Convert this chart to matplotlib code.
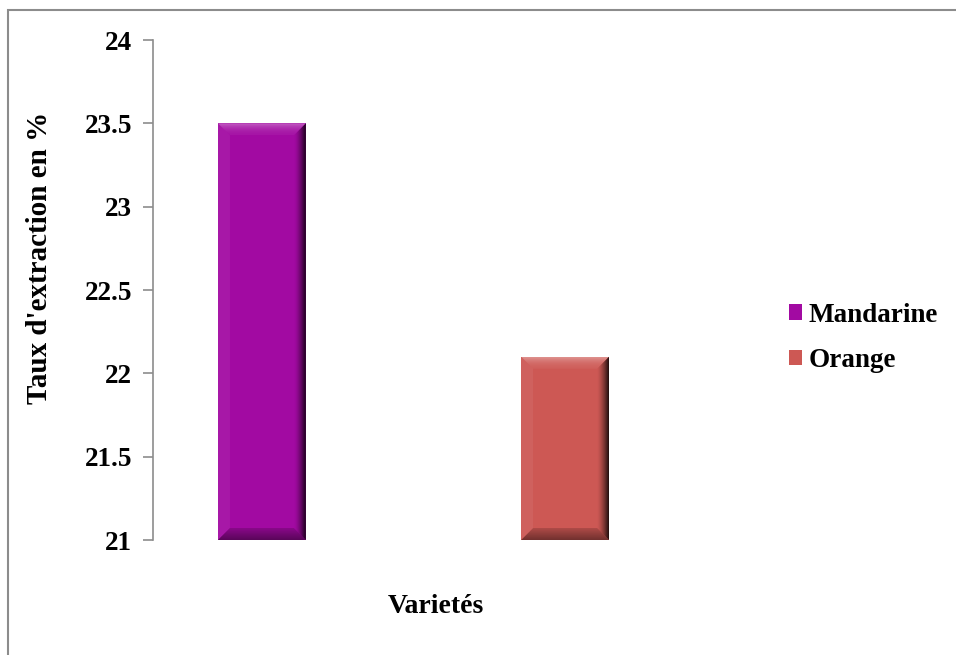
import numpy as np
import matplotlib
matplotlib.use('Agg')
from matplotlib import pyplot as plt
from matplotlib.patches import Polygon, Rectangle

varietes = ['Mandarine', 'Orange']
taux = [23.5, 22.1]
couleurs = ['#a20aa2', '#cd5854']
yticks = [21, 21.5, 22, 22.5, 23, 23.5, 24]
ytick_labels = ['21', '21.5', '22', '22.5', '23', '23.5', '24']

plt.rcParams['font.family'] = 'Liberation Serif'
plt.rcParams['font.weight'] = 'bold'

fig = plt.figure(figsize=(9.56, 6.55), dpi=100)
ax = fig.add_axes([153/956, 1-540/655, 521/956, 500/655])

pos = np.arange(len(varietes))
bars = ax.bar(pos, np.array(taux) - 21, bottom=21, width=0.29, color=couleurs,
              label=varietes, zorder=2)

ax.set_ylim(21, 24)
ax.set_xlim(-0.359, 1.359)
ax.set_yticks(yticks)
ax.set_yticklabels(ytick_labels)
ax.set_xticks([])

for s in ['top', 'right', 'bottom']:
    ax.spines[s].set_visible(False)
ax.spines['left'].set_color('#8c8c8c')
ax.spines['left'].set_linewidth(1.2)
ax.tick_params(axis='y', direction='out', length=7, width=1.2, color='#8c8c8c',
               labelsize=19.5, pad=8)

ax.set_ylabel("Taux d'extraction en %", fontsize=21, fontweight='bold')
ax.yaxis.set_label_coords(-0.192, 0.565)
ax.set_xlabel('Varietés', fontsize=20, fontweight='bold')
ax.xaxis.set_label_coords(0.543, -0.108)

# bevel effect on the bars
def bevel(bar, px=12):
    fig.canvas.draw()
    x0, y0 = bar.get_x(), bar.get_y()
    w, h = bar.get_width(), bar.get_height()
    inv = ax.transData.inverted()
    p0 = inv.transform((0, 0))
    p1 = inv.transform((px, px))
    dx, dy = p1[0] - p0[0], p1[1] - p0[1]
    x1, y1 = x0 + w, y0 + h
    sides = [
        ([(x0, y1), (x1, y1), (x1 - dx, y1 - dy), (x0 + dx, y1 - dy)], 'top'),
        ([(x0, y0), (x0, y1), (x0 + dx, y1 - dy), (x0 + dx, y0 + dy)], 'left'),
        ([(x1, y0), (x1, y1), (x1 - dx, y1 - dy), (x1 - dx, y0 + dy)], 'right'),
        ([(x0, y0), (x1, y0), (x1 - dx, y0 + dy), (x0 + dx, y0 + dy)], 'bottom'),
    ]
    for pts, side in sides:
        poly = Polygon(pts, closed=True, fc='none', ec='none')
        ax.add_patch(poly)
        g = np.linspace(0, 1, 64)
        img = np.zeros((64, 64, 4))
        if side == 'top':
            img[..., :3] = 1
            img[..., 3] = (0.05 + 0.3 * g ** 2)[:, None]
            ext = (x0, x1, y1 - dy, y1)
        elif side == 'left':
            img[..., :3] = 1
            img[..., 3] = 0.06
            ext = (x0, x0 + dx, y0, y1)
        elif side == 'right':
            img[..., 3] = (g ** 1.5 * 0.85)[None, :]
            ext = (x1 - dx, x1, y0, y1)
        else:
            img[..., 3] = (0.45 - 0.3 * g)[:, None]
            ext = (x0, x1, y0, y0 + dy)
        im = ax.imshow(img, extent=ext, origin='lower', aspect='auto', zorder=3,
                       interpolation='bilinear')
        im.set_clip_path(poly)

for b in bars:
    bevel(b)
ax.set_xlim(-0.359, 1.359)
ax.set_ylim(21, 24)

leg = ax.legend(loc='upper left', bbox_to_anchor=(775/956, 1-289/655),
                bbox_transform=fig.transFigure, frameon=False, fontsize=19.5,
                handlelength=0.5, handleheight=0.5, handletextpad=0.25,
                labelspacing=0.75, borderpad=0)

fig.add_artist(Rectangle((8/956, -0.1), 1.2, 1.1 - 10/655, transform=fig.transFigure,
                         fill=False, ec='#8c8c8c', lw=1.5))

plt.savefig('out.png', dpi=100)
